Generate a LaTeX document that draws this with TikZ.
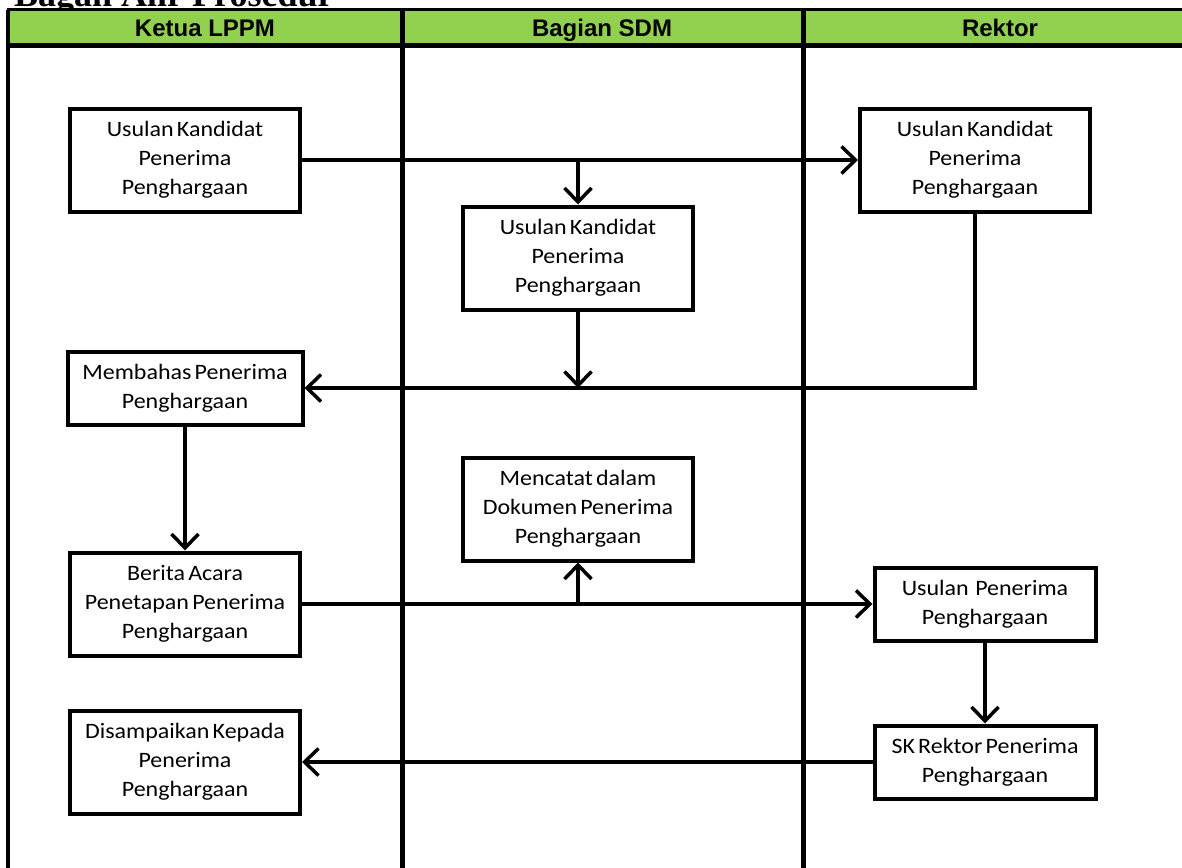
\documentclass[tikz,border=0pt]{standalone}
\usepackage{fontspec}
\setmainfont{Carlito}[WordSpace=0.6, FakeStretch=1.09]
\newfontfamily\headfont{Liberation Sans}
\newfontfamily\titlefont{Liberation Serif}
\usetikzlibrary{arrows.meta}
\definecolor{lanegreen}{HTML}{92D050}
\tikzstyle{line} = [draw, line width=3.5pt, -{Straight Barb[length=14pt, width=27pt]}]
\tikzstyle{proc} = [rectangle, draw, line width=4pt, minimum width=230pt, minimum height=103pt, inner sep=4pt, align=center, font=\fontsize{22}{29}\selectfont]
\tikzstyle{proc_low} = [proc, minimum height=73pt]
\tikzstyle{lane} = [draw, line width=5pt]
\tikzstyle{head} = [anchor=base, font=\headfont\bfseries\fontsize{24}{24}\selectfont]

\begin{document}
\begin{tikzpicture}[x=1pt, y=-1pt]
		\clip [use as bounding box] (0,0) rectangle (1182,867);
		\node [anchor=base west, inner sep=0pt, font=\titlefont\bfseries\fontsize{36}{36}\selectfont] (judul) at (14,7) {Bagan Alir Prosedur};
		
		% kepala lajur
		\draw [fill=lanegreen, line width=3pt] (8,10) rectangle (1200,46);
		\draw [line width=5pt] (8,46) -- (1200,46);
		\draw [line width=3.5pt] (8,10) -- (8,880);
		\foreach \x in {402,803} \draw [lane] (\x,10) -- (\x,880);
		\node [head] (h_ketua) at (205,37) {Ketua LPPM};
		\node [head] (h_sdm) at (602,37) {Bagian SDM};
		\node [head] (h_rektor) at (1000,37) {Rektor};
		
		\node [proc] (usul_ketua) at (185,160) {Usulan Kandidat \\ Penerima \\ Penghargaan};
		\node [proc_low, below of=usul_ketua, node distance=228pt, minimum width=235pt] (membahas) {Membahas Penerima \\ Penghargaan};
		\node [proc, below of=membahas, node distance=216pt] (berita) {Berita Acara \\ Penetapan Penerima \\ Penghargaan};
		\node [proc, below of=berita, node distance=158pt] (disampaikan) {Disampaikan Kepada \\ Penerima \\ Penghargaan};
		
		\node [proc] (usul_sdm) at (578,258) {Usulan Kandidat \\ Penerima \\ Penghargaan};
		\node [proc, below of=usul_sdm, node distance=251pt] (mencatat) {Mencatat dalam \\ Dokumen Penerima \\ Penghargaan};
		
		\node [proc, right of=usul_ketua, node distance=790pt] (usul_rektor) {Usulan Kandidat \\ Penerima \\ Penghargaan};
		\node [proc_low, right of=berita, node distance=800pt, minimum width=221pt] (usul_penerima) {Usulan\ \ Penerima \\ Penghargaan};
		\node [proc_low, below of=usul_penerima, node distance=158pt, minimum width=221pt] (sk_rektor) {SK Rektor Penerima \\ Penghargaan};
		
		\path [line] (usul_ketua.east) -- (usul_rektor.west);
		\path [line] (usul_sdm.north |- usul_ketua.east) -- (usul_sdm.north);
		\path [line] (usul_rektor.south) |- (membahas.east);
		\path [line] (usul_sdm.south) -- (usul_sdm.south |- membahas.east);
		\path [line] (membahas.south) -- (berita.north);
		\path [line] (berita.east) -- (usul_penerima.west);
		\path [line] (mencatat.south |- berita.east) -- (mencatat.south);
		\path [line] (usul_penerima.south) -- (sk_rektor.north);
		\path [line] (sk_rektor.west) -- (disampaikan.east);
		
	\end{tikzpicture}
\end{document}
